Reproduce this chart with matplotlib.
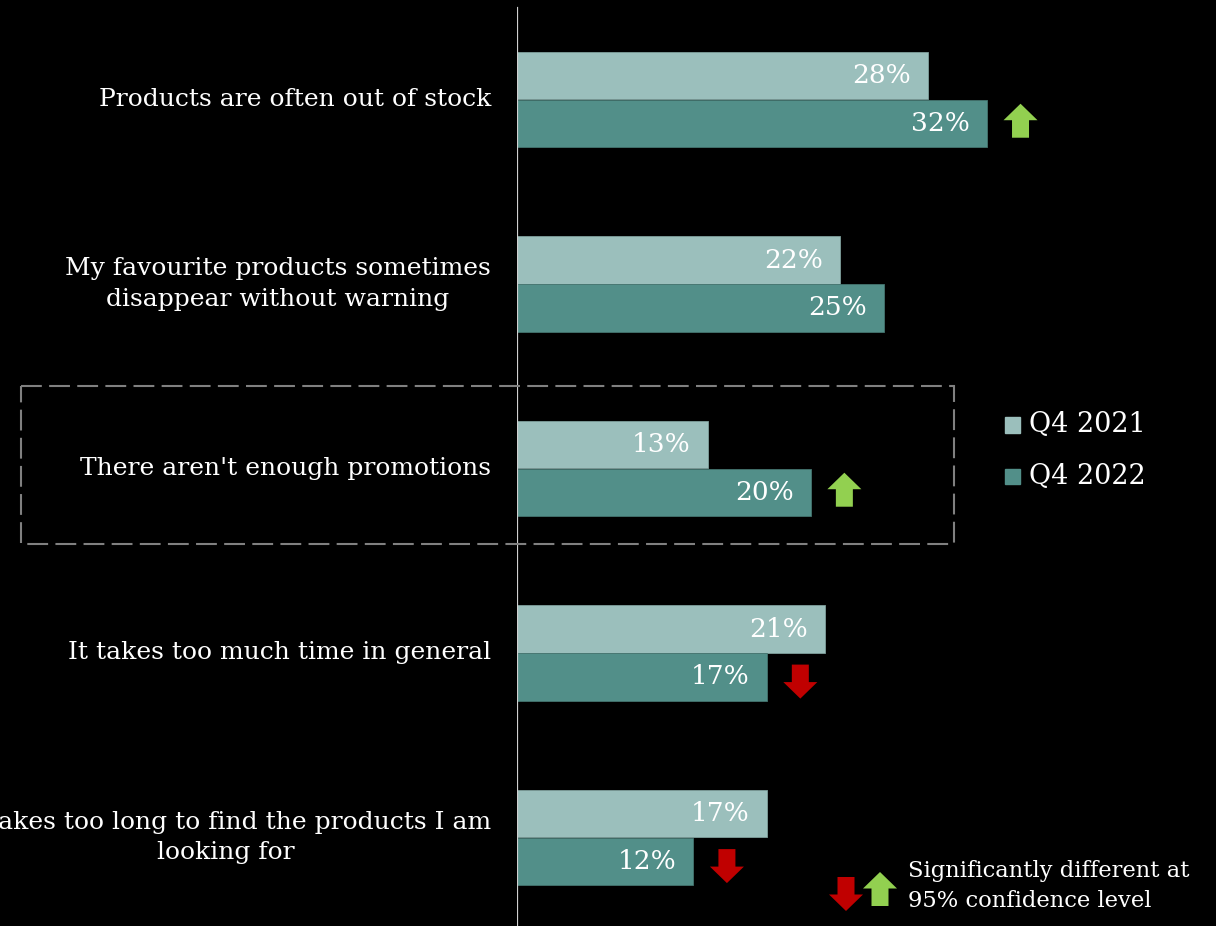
import numpy as np
import matplotlib.pyplot as plt
from matplotlib.patches import Polygon, Rectangle
from matplotlib import transforms

# Data
categories = [
    "Products are often out of stock",
    "My favourite products sometimes\ndisappear without warning",
    "There aren't enough promotions",
    "It takes too much time in general",
    "It takes too long to find the products I am\nlooking for",
]
q4_2021 = [28, 22, 13, 21, 17]
q4_2022 = [32, 25, 20, 17, 12]
sig_2022 = ["up", None, "up", "down", "down"]
series_labels = ["Q4 2021", "Q4 2022"]
note = "Significantly different at\n95% confidence level"

LIGHT = "#9BBFBC"
DARK = "#528F89"
GREEN = "#92D050"
RED = "#C00000"
FONT = "DejaVu Serif"

W, H = 1216, 926
PX_PER_PCT = 14.68
fig = plt.figure(figsize=(W / 100, H / 100), dpi=100, facecolor="black")
ax = fig.add_axes([517 / W, 0, (W - 517) / W, 1])
ax.set_facecolor("black")
ax.set_xlim(0, (W - 517) / PX_PER_PCT)
ax.set_ylim((H - 99.5) / 184.5, -99.5 / 184.5)
ax.axis("off")

y = np.arange(len(categories))
off, bh = 0.13, 0.255
ax.barh(y - off, q4_2021, height=bh, color=LIGHT, edgecolor="#7f9f9c", linewidth=0.6)
ax.barh(y + off, q4_2022, height=bh, color=DARK, edgecolor="#44746f", linewidth=0.6)

pad = 17 / PX_PER_PCT
for i in range(len(categories)):
    ax.text(q4_2021[i] - pad, y[i] - off, f"{q4_2021[i]}%", ha="right", va="center",
            color="white", fontsize=19, family=FONT)
    ax.text(q4_2022[i] - pad, y[i] + off, f"{q4_2022[i]}%", ha="right", va="center",
            color="white", fontsize=19, family=FONT)
    # the last label runs off the left edge, as in the original slide
    ax.text(-26 / PX_PER_PCT, y[i], categories[i], ha="right", va="center",
            multialignment="center", color="white", fontsize=18, family=FONT,
            linespacing=1.42, clip_on=False)

ax.axvline(0, ymin=0, ymax=(H - 8) / H, color="#D0D0D0", lw=1.6)


def arrow(x, y0, up, color, base):
    # arrow shape in inches, centred on the anchor point
    s = 1 if up else -1
    pts = np.array([(0, 17), (17, 0.5), (8.5, 0.5), (8.5, -17), (-8.5, -17),
                    (-8.5, 0.5), (-17, 0.5)]) / 100.0
    pts[:, 1] *= s
    tr = fig.dpi_scale_trans + transforms.ScaledTranslation(x, y0, base)
    fig.add_artist(Polygon(pts, closed=True, color=color, transform=tr, lw=0))


for i, s in enumerate(sig_2022):
    if s == "up":
        arrow(q4_2022[i] + 2.3, y[i] + off - 0.015, True, GREEN, ax.transData)
    elif s == "down":
        arrow(q4_2022[i] + 2.3, y[i] + off + 0.025, False, RED, ax.transData)

# dashed highlight box
box_tr = transforms.blended_transform_factory(fig.transFigure, ax.transData)
fig.add_artist(Rectangle((21 / W, 2 - 0.447), (954 - 21) / W, 0.857, transform=box_tr,
                         fill=False, ec="#808080", lw=1.5, ls=(0, (10, 3.5))))

# legend
for k, (lab, col) in enumerate(zip(series_labels, [LIGHT, DARK])):
    yc = 425 + 51 * k
    fig.add_artist(Rectangle((1005 / W, 1 - (yc + 7.5) / H), 15 / W, 15 / H,
                             transform=fig.transFigure, color=col))
    fig.text(1029 / W, 1 - yc / H, lab, ha="left", va="center", color="white",
             fontsize=19.5, family=FONT)

# significance note
arrow(846 / W, 1 - 894 / H, False, RED, fig.transFigure)
arrow(880 / W, 1 - 889 / H, True, GREEN, fig.transFigure)
fig.text(908 / W, 1 - 886 / H, note, ha="left", va="center", color="white",
         fontsize=16.3, family=FONT, linespacing=1.45)

fig.savefig("out.png", dpi=100, facecolor="black")
